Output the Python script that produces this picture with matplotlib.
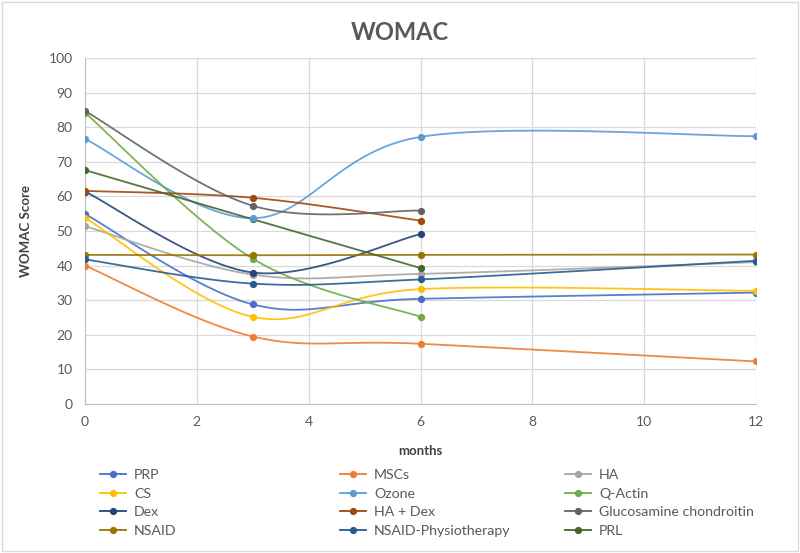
import numpy as np
import matplotlib
matplotlib.use("Agg")
import matplotlib.pyplot as plt
from matplotlib.patches import Rectangle

plt.rcParams['font.family'] = ['Lato', 'DejaVu Sans']

# data
months_long = [0, 3, 6, 12]
months_short = [0, 3, 6]

prp = [54.9, 28.8, 30.4, 32.2]
mscs = [40.0, 19.5, 17.4, 12.3]
ha = [51.4, 37.4, 37.6, 41.0]
cs = [53.8, 25.2, 33.2, 32.7]
ozone = [76.6, 53.7, 77.2, 77.4]
q_actin = [84.2, 42.0, 25.2]
dex = [61.4, 38.0, 49.1]
ha_dex = [61.6, 59.6, 53.0]
glucosamine = [84.7, 57.3, 55.9]
nsaid = [43.1, 43.0, 43.1, 43.2]
nsaid_physio = [41.8, 34.8, 36.0, 41.4]
prl = [67.6, 53.4, 39.3]

series = [
    ("PRP", months_long, prp, "#4472C4"),
    ("MSCs", months_long, mscs, "#ED7D31"),
    ("HA", months_long, ha, "#A5A5A5"),
    ("CS", months_long, cs, "#FFC000"),
    ("Ozone", months_long, ozone, "#5B9BD5"),
    ("Q-Actin", months_short, q_actin, "#70AD47"),
    ("Dex", months_short, dex, "#264478"),
    ("HA + Dex", months_short, ha_dex, "#9E480E"),
    ("Glucosamine chondroitin", months_short, glucosamine, "#636363"),
    ("NSAID", months_long, nsaid, "#997300"),
    ("NSAID-Physiotherapy", months_long, nsaid_physio, "#255E91"),
    ("PRL", months_short, prl, "#43682B"),
]


def smooth(xs, ys, n=40):
    # excel style smoothed line (catmull-rom bezier)
    pts = np.column_stack([xs, ys]).astype(float)
    t = np.linspace(0, 1, n)[:, None]
    out = []
    for i in range(len(pts) - 1):
        p0 = pts[i - 1] if i > 0 else pts[i]
        p1 = pts[i]
        p2 = pts[i + 1]
        p3 = pts[i + 2] if i + 2 < len(pts) else pts[i + 1]
        c1 = p1 + (p2 - p0) / 6
        c2 = p2 - (p3 - p1) / 6
        seg = (1 - t) ** 3 * p1 + 3 * (1 - t) ** 2 * t * c1 + 3 * (1 - t) * t ** 2 * c2 + t ** 3 * p2
        out.append(seg)
    out = np.vstack(out)
    return out[:, 0], out[:, 1]


fig = plt.figure(figsize=(8, 5.53), dpi=100)
ax = fig.add_axes([85 / 800, 1 - 404 / 553, (756 - 85) / 800, (404 - 58) / 553])

handles = []
for name, xs, ys, col in series:
    sx, sy = smooth(xs, ys)
    ax.plot(sx, sy, color=col, lw=1.3, zorder=3, alpha=0.9)
    # ozone marker sits on top of PRL at month 3 in the original
    mz = 5 if name == "Ozone" else 4
    ax.plot(xs, ys, 'o', color=col, ms=4.2, zorder=mz)
    h, = ax.plot([], [], color=col, lw=1.3, marker='o', ms=4.2)
    handles.append((h, name))

ax.set_xlim(0, 12)
ax.set_ylim(0, 100)
ax.set_xticks(range(0, 13, 2))
ax.set_yticks(range(0, 101, 10))
ax.grid(True, color="#D9D9D9", lw=0.9)
ax.set_axisbelow(True)
for s in ["top", "right"]:
    ax.spines[s].set_visible(False)
for s in ["left", "bottom"]:
    ax.spines[s].set_color("#BFBFBF")
ax.tick_params(length=0, labelsize=10, labelcolor="#595959", pad=9)

ax.set_xlabel("months", fontsize=9.5, fontweight="bold", color="#404040", labelpad=12)
ax.set_ylabel("WOMAC Score", fontsize=9.5, fontweight="bold", color="#404040", labelpad=12)
fig.text(0.5, 1 - 33 / 553, "WOMAC", ha="center", va="center",
         fontsize=17, fontweight="bold", color="#595959")

# legend laid out in three columns, row-wise like excel
col_x = [100, 340, 565]
for c in range(3):
    hs = [handles[i][0] for i in range(c, 12, 3)]
    ls = [handles[i][1] for i in range(c, 12, 3)]
    leg = fig.legend(hs, ls, loc="center left", bbox_to_anchor=(col_x[c] / 800, 1 - 503 / 553),
                     frameon=False, fontsize=10.2, handlelength=1.8, handletextpad=0.6,
                     labelspacing=0.45, borderpad=0, borderaxespad=0, numpoints=1)
    for txt in leg.get_texts():
        txt.set_color("#595959")

fig.patches.append(Rectangle((0.003, 0.004), 0.994, 0.992, transform=fig.transFigure,
                             fill=False, edgecolor="#D9D9D9", lw=1))

fig.savefig("out.png", dpi=100)
